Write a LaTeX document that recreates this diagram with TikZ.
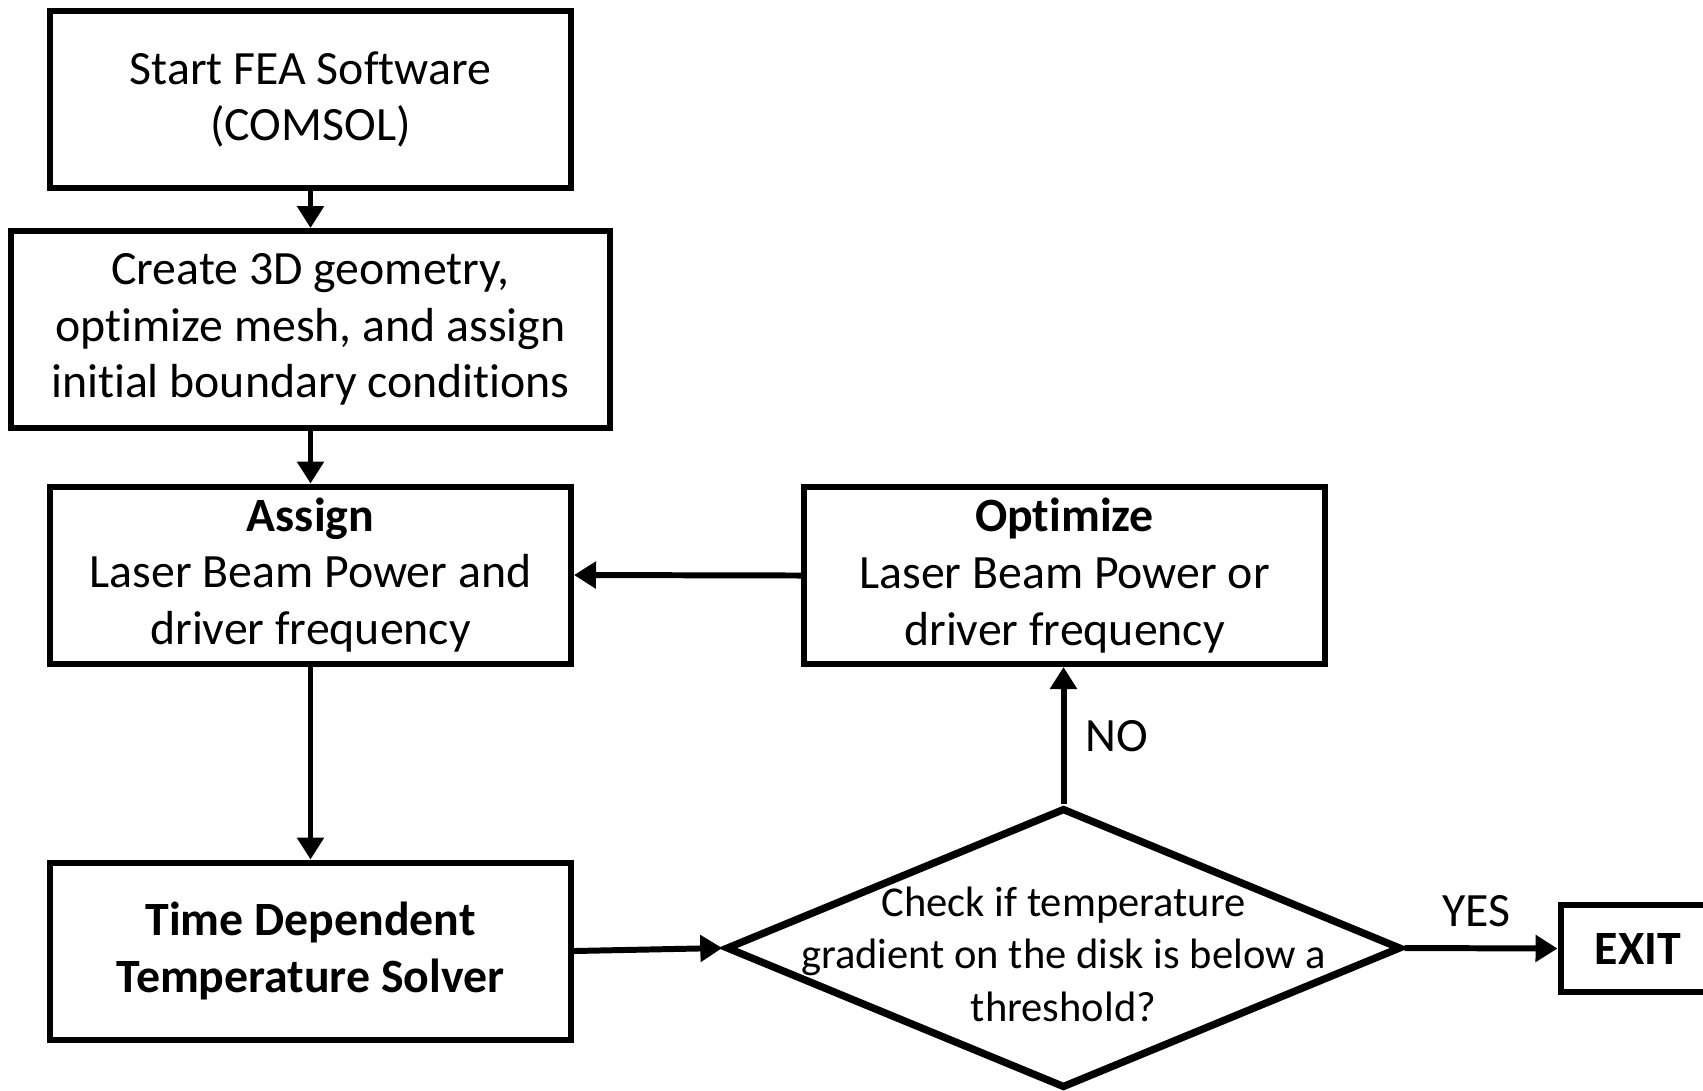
\documentclass[tikz,border=0pt]{standalone}
\usepackage{fontspec}
\setmainfont[Ligatures=NoCommon]{Carlito}
\usetikzlibrary{shapes.geometric,arrows.meta}

\begin{document}
\begin{tikzpicture}[
  stepbox/.style={rectangle, draw=black, line width=1.7pt, minimum width=5.21cm,
    minimum height=1.77cm, align=center, inner sep=0pt, font=\fontsize{13.6}{16.1}\selectfont},
  decision/.style={diamond, draw=black, line width=2.1pt, minimum width=6.75cm,
    minimum height=2.8cm, inner sep=0pt},
  arrow/.style={-{Triangle[length=0.22cm,width=0.26cm]}, line width=1.7pt}
]
\useasboundingbox (0,0) rectangle (17.03,-10.90);

\node[stepbox] (start) at (3.105,-0.995) {Start FEA Software\\(COMSOL)};
\node[stepbox, minimum width=5.99cm, minimum height=1.97cm] (geom) at (3.105,-3.295)
  {Create 3D geometry,\\optimize mesh, and assign\\initial boundary conditions};
\node[stepbox] (assign) at (3.105,-5.75)
  {\textbf{Assign}\\Laser Beam Power and\\driver frequency};
\node[stepbox] (solver) at (3.105,-9.51)
  {\textbf{Time Dependent}\\\textbf{Temperature Solver}};
\node[stepbox] (optim) at (10.645,-5.755)
  {\textbf{Optimize}\\Laser Beam Power or\\driver frequency};

\node[decision] (check) at (10.635,-9.48) {};
\node[align=center, font=\fontsize{12.1}{14.9}\selectfont, yshift=-0.06cm] (checktext) at (check.center)
  {Check if temperature\\gradient on the disk is below a\\threshold?};

\node[stepbox, minimum width=1.55cm, minimum height=0.87cm] (exit) at (16.38,-9.485)
  {\textbf{EXIT}};

\draw[arrow] (start) -- (geom);
\draw[arrow] (geom) -- (assign);
\draw[arrow] (assign) -- (solver);
\draw[arrow] (solver.east) -- (check.west);
\draw[arrow] (check.north) -- node[right=2pt, font=\fontsize{13.6}{16.1}\selectfont] {NO} (check.north |- optim.south);
\draw[arrow] (optim.west) -- (assign.east);
\draw[arrow] (check.east) -- node[above=2pt, xshift=-0.05cm, font=\fontsize{13.6}{16.1}\selectfont] {YES} (exit.west);
\end{tikzpicture}
\end{document}
